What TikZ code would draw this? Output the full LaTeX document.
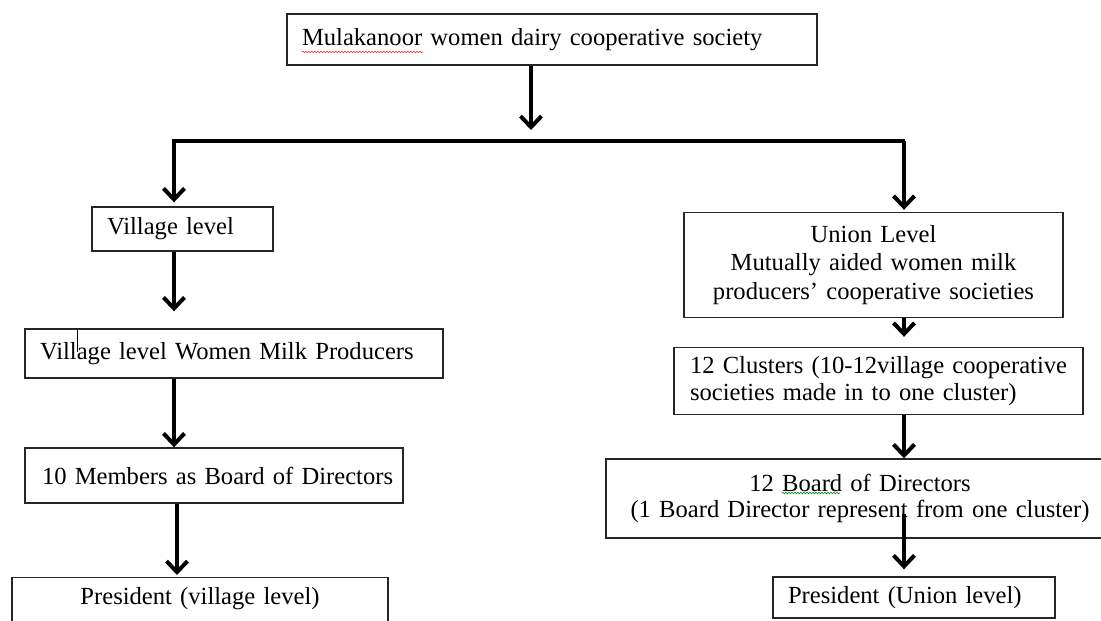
\documentclass[tikz,border=0pt]{standalone}
\usepackage{fontspec}
\setmainfont{Liberation Serif}[WordSpace=0.45]
\usetikzlibrary{arrows.meta,calc,decorations.pathmorphing}
\newcommand{\reffont}[1]{\fontsize{24.6}{#1}\selectfont}
\tikzset{
  box/.style={draw=black!85, line width=1.4pt, inner ysep=0pt,
    font=\reffont{28}},
  lbox/.style={box, align=left},
  cbox/.style={box, align=center},
  arr/.style={line width=4pt, -{Straight Barb[length=11pt,width=21pt,line width=4pt]}},
  barline/.style={line width=4pt},
  squiggle/.style={line width=0.6pt, decorate,
    decoration={snake, amplitude=0.8pt, segment length=3pt}},
}
\begin{document}
\begin{tikzpicture}[x=1pt,y=-1pt]
\useasboundingbox (0,0) rectangle (1101,621);
\clip (0,0) rectangle (1101,621);

% boxes
\node[lbox, inner xsep=15pt, text width=500pt, minimum height=51pt] (top) at (552,39.5)
  {\mbox{Mulakanoor women dairy cooperative society}};
\node[lbox, inner xsep=15pt, text width=151pt, minimum height=44pt] (vl) at (182.5,229)
  {\mbox{Village level}};
\node[lbox, inner xsep=15pt, text width=388pt, minimum height=49pt] (vw) at (234,353.5)
  {\mbox{Village level Women Milk Producers}};
\node[lbox, inner xsep=17pt, text width=344pt, minimum height=55pt] (tm) at (214,475.5)
  {\mbox{10 Members as Board of Directors}};
\node[cbox, anchor=north, inner xsep=15pt, text width=346pt, inner ysep=11pt,
  text height=16pt, text depth=50pt] (pv) at (200,577)
  {President (village level)};

\node[cbox, inner xsep=15pt, text width=349pt, minimum height=105pt,
  font=\reffont{28.5}] (un) at (873.5,265)
  {Union Level\\Mutually aided women milk\\producers’ cooperative societies};
\node[lbox, inner xsep=16pt, text width=377pt, minimum height=67pt,
  font=\reffont{26.5}] (cl) at (878.5,381)
  {\mbox{12 Clusters (10-12village cooperative}\\\mbox{societies made in to one cluster)}};
\node[cbox, inner xsep=15pt, text width=478pt, minimum height=79pt,
  font=\reffont{26}] (bd) at (860,498.5)
  {12 Board of Directors\\(1 Board Director represent from one cluster)};
\node[lbox, inner xsep=15pt, text width=252pt, minimum height=41pt] (up) at (914,597.5)
  {\mbox{President (Union level)}};

% bar and connectors
\coordinate (bL) at (172,141);
\coordinate (bR) at (905,141);
\coordinate (bM) at (531,141);
\coordinate (bLa) at (174,141);
\coordinate (bRa) at (904,141);
\draw[barline] (bL) -- (bR);
\draw[arr, shorten >=11pt] (top.south -| bM) -- (bM);

\draw[arr, shorten >=4pt] (bLa) -- (vl.north -| bLa);
\draw[arr, shorten >=17pt] (vl.south -| bLa) -- (vw.north -| bLa);
\draw[arr] (vw.south -| bLa) -- (tm.north -| bLa);
\draw[arr, shorten >=2pt] ($(tm.south -| bLa)+(3,0)$) -- ($(pv.north -| bLa)+(3,0)$);

\draw[arr, shorten >=2pt] (bRa) -- (un.north -| bRa);
\draw[arr, shorten >=10pt] (un.south -| bRa) -- (cl.north -| bRa);
\draw[arr] (cl.south -| bRa) -- (bd.north -| bRa);
\draw[arr, shorten >=7pt] ($(bd.south -| bRa)+(0,-25)$) -- (up.north -| bRa);

% small stray mark and spell-check underlines
\draw[line width=1.2pt] ($(vw.north west)+(53,0)$) -- ($(vw.north west)+(53,24)$);
\draw[squiggle, red!80] (302,52) -- (423,52);
\draw[squiggle, green!55!black] (782,493) -- (840,493);
\end{tikzpicture}
\end{document}
